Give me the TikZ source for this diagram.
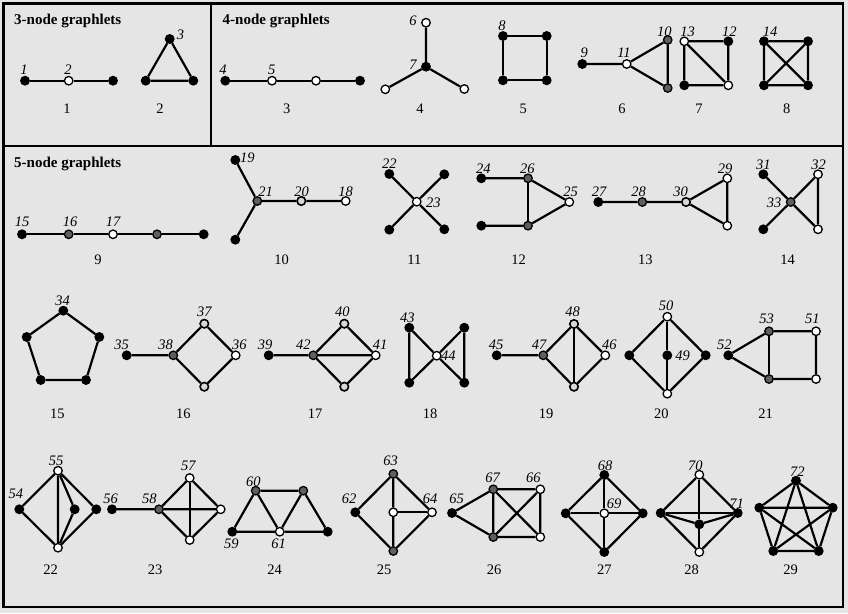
\documentclass[tikz,border=0pt]{standalone}
\usepackage{fontspec}
\setmainfont{Liberation Serif}
\definecolor{bgc}{RGB}{229,229,229}
\definecolor{gfill}{RGB}{95,95,95}
\definecolor{lfill}{RGB}{215,215,215}
\begin{document}
\begin{tikzpicture}[x=1pt,y=-1pt,
  nd/.style={circle,draw=black,line width=1.3pt,inner sep=0pt,minimum size=8.5pt},
  bn/.style={nd,fill=black},
  wn/.style={nd,fill=white},
  gn/.style={nd,fill=gfill},
  ln/.style={nd,fill=lfill,line width=1.6pt},
  ed/.style={line width=2.2pt},
  lab/.style={inner sep=0pt,font=\fontsize{14.5}{16}\selectfont\itshape},
  captxt/.style={inner sep=0pt,font=\fontsize{14.5}{16}\selectfont},
  ttl/.style={inner sep=0pt,anchor=west,font=\fontsize{15}{17}\selectfont\bfseries},
  frm/.style={line width=2.2pt}]
\useasboundingbox[fill=bgc] (0,0) rectangle (848,613);
\draw[frm] (3.5,3.5) rectangle (843,607);
\draw[frm] (211,3.5) -- (211,146);
\draw[frm] (3.5,146) -- (843,146);
\node[ttl] (h3) at (14,20.5) {3-node graphlets};
\node[ttl] (h4) at (222.5,20.5) {4-node graphlets};
\node[ttl] (h5) at (14,164) {5-node graphlets};

% G1
\node[bn] (g1a) at (25,80.7) {};
\node[wn] (g1b) at (68.7,80.7) {};
\node[bn] (g1c) at (113,80.7) {};
\draw[ed] (g1a) -- (g1b) -- (g1c);
\node[lab] (t1) at (24,70) {1};
\node[lab] (t2) at (68,70) {2};
\node[captxt] (c1) at (67,109) {1};
% G2
\node[bn] (g2a) at (169.7,39) {};
\node[bn] (g2b) at (145.7,80.7) {};
\node[bn] (g2c) at (193.3,80.7) {};
\draw[ed] (g2a) -- (g2b) -- (g2c) -- (g2a);
\node[lab] (t3) at (180.5,35) {3};
\node[captxt] (c2) at (160,109) {2};
% G3
\node[bn] (g3a) at (225.3,80.7) {};
\node[wn] (g3b) at (272,80.7) {};
\node[wn] (g3c) at (316,80.7) {};
\node[bn] (g3d) at (360,80.7) {};
\draw[ed] (g3a) -- (g3b) -- (g3c) -- (g3d);
\node[lab] (t4) at (223,70) {4};
\node[lab] (t5) at (271.7,70) {5};
\node[captxt] (c3) at (286.7,109) {3};
% G4
\node[wn] (g4a) at (426,22.7) {};
\node[bn] (g4b) at (426,66.7) {};
\node[wn] (g4c) at (385.3,89.3) {};
\node[wn] (g4d) at (464.3,89) {};
\draw[ed] (g4a) -- (g4b) -- (g4c);
\draw[ed] (g4b) -- (g4d);
\node[lab] (t6) at (413,21) {6};
\node[lab] (t7) at (413,65) {7};
\node[captxt] (c4) at (420,109) {4};
% G5
\node[bn] (g5a) at (503,36) {};
\node[bn] (g5b) at (546.7,36) {};
\node[bn] (g5c) at (546.7,80.3) {};
\node[bn] (g5d) at (503,80.3) {};
\draw[ed] (g5a) -- (g5b) -- (g5c) -- (g5d) -- (g5a);
\node[lab] (t8) at (502,26) {8};
\node[captxt] (c5) at (523.3,109) {5};
% G6
\node[bn] (g6a) at (582.3,64) {};
\node[wn] (g6b) at (626.7,64) {};
\node[gn] (g6c) at (667.7,40) {};
\node[gn] (g6d) at (667.7,88) {};
\draw[ed] (g6a) -- (g6b) -- (g6c) -- (g6d) -- (g6b);
\node[lab] (t9) at (584.3,53) {9};
\node[lab] (t11) at (624,53) {11};
\node[lab] (t10) at (664.3,32) {10};
\node[captxt] (c6) at (622,109) {6};
% G7
\node[wn] (g7a) at (684.3,41.3) {};
\node[bn] (g7b) at (728.3,41.3) {};
\node[wn] (g7c) at (728.3,85.3) {};
\node[bn] (g7d) at (684.3,85.3) {};
\draw[ed] (g7a) -- (g7b) -- (g7c) -- (g7d) -- (g7a) -- (g7c);
\node[lab] (t13) at (687.7,32) {13};
\node[lab] (t12) at (729.3,32) {12};
\node[captxt] (c7) at (699,109) {7};
% G8
\node[bn] (g8a) at (764,41.3) {};
\node[bn] (g8b) at (808,41.3) {};
\node[bn] (g8c) at (808,85.3) {};
\node[bn] (g8d) at (764,85.3) {};
\draw[ed] (g8a) -- (g8b) -- (g8c) -- (g8d) -- (g8a) -- (g8c);
\draw[ed] (g8b) -- (g8d);
\node[lab] (t14) at (770,32) {14};
\node[captxt] (c8) at (786.7,109) {8};

% G9
\node[bn] (g9a) at (22,234.3) {};
\node[gn] (g9b) at (68.7,234.3) {};
\node[wn] (g9c) at (113,234.3) {};
\node[gn] (g9d) at (157,234.3) {};
\node[bn] (g9e) at (203.7,234.3) {};
\draw[ed] (g9a) -- (g9b) -- (g9c) -- (g9d) -- (g9e);
\node[lab] (t15) at (22,222) {15};
\node[lab] (t16) at (70,222) {16};
\node[lab] (t17) at (113,222) {17};
\node[captxt] (c9) at (98,260) {9};
% G10
\node[bn] (g10a) at (235.3,160) {};
\node[gn] (g10b) at (257.3,201) {};
\node[ln] (g10c) at (301.3,201) {};
\node[wn] (g10d) at (345.7,201) {};
\node[bn] (g10e) at (235.3,239.7) {};
\draw[ed] (g10a) -- (g10b) -- (g10c) -- (g10d);
\draw[ed] (g10b) -- (g10e);
\node[lab] (t19) at (247.3,158) {19};
\node[lab] (t21) at (265.7,191.7) {21};
\node[lab] (t20) at (301.7,191.7) {20};
\node[lab] (t18) at (345.7,191.7) {18};
\node[captxt] (c10) at (281.7,260) {10};
% G11
\node[bn] (g11a) at (389.3,174) {};
\node[wn] (g11b) at (416.7,201.7) {};
\node[bn] (g11c) at (389.3,229.7) {};
\node[bn] (g11d) at (444.3,174.3) {};
\node[bn] (g11e) at (444.3,229.3) {};
\draw[ed] (g11a) -- (g11b) -- (g11e);
\draw[ed] (g11c) -- (g11b) -- (g11d);
\node[lab] (t22) at (389.3,164) {22};
\node[lab] (t23) at (433.3,202.3) {23};
\node[captxt] (c11) at (414.3,260) {11};
% G12
\node[bn] (g12a) at (481.3,178.3) {};
\node[gn] (g12b) at (528,178.3) {};
\node[wn] (g12c) at (569.3,202) {};
\node[bn] (g12d) at (481.3,225.7) {};
\node[gn] (g12e) at (528,225.7) {};
\draw[ed] (g12a) -- (g12b) -- (g12c) -- (g12e) -- (g12d);
\draw[ed] (g12b) -- (g12e);
\node[lab] (t24) at (483.3,168.3) {24};
\node[lab] (t26) at (527.3,168.3) {26};
\node[lab] (t25) at (570.7,191.7) {25};
\node[captxt] (c12) at (518.7,260) {12};
% G13
\node[bn] (g13a) at (598.3,202) {};
\node[gn] (g13b) at (642.3,202) {};
\node[ln] (g13c) at (686,202) {};
\node[wn] (g13d) at (727.3,178.3) {};
\node[wn] (g13e) at (727.3,225.7) {};
\draw[ed] (g13a) -- (g13b) -- (g13c) -- (g13d) -- (g13e) -- (g13c);
\node[lab] (t27) at (599,191.7) {27};
\node[lab] (t28) at (638.7,191.7) {28};
\node[lab] (t30) at (680.7,191.7) {30};
\node[lab] (t29) at (725,169) {29};
\node[captxt] (c13) at (645.3,260) {13};
% G14
\node[bn] (g14a) at (763.3,174.3) {};
\node[gn] (g14b) at (790.7,202) {};
\node[wn] (g14c) at (818,174.3) {};
\node[bn] (g14d) at (763.3,229.3) {};
\node[wn] (g14e) at (818,229.3) {};
\draw[ed] (g14a) -- (g14b) -- (g14e) -- (g14c) -- (g14b) -- (g14d);
\node[lab] (t31) at (763.3,164.3) {31};
\node[lab] (t32) at (818.7,164.3) {32};
\node[lab] (t33) at (774,202.3) {33};
\node[captxt] (c14) at (787.7,260) {14};

% G15
\node[bn] (g15a) at (63.3,310.7) {};
\node[bn] (g15b) at (99.3,337) {};
\node[bn] (g15c) at (86,380) {};
\node[bn] (g15d) at (40.7,380) {};
\node[bn] (g15e) at (26.7,337) {};
\draw[ed] (g15a) -- (g15b) -- (g15c) -- (g15d) -- (g15e) -- (g15a);
\node[lab] (t34) at (62.7,300.7) {34};
\node[captxt] (c15) at (57.3,414) {15};
% G16
\node[bn] (g16a) at (126.7,355.3) {};
\node[gn] (g16b) at (173.3,355.3) {};
\node[ln] (g16c) at (204.3,323.7) {};
\node[wn] (g16d) at (235.7,355.3) {};
\node[ln] (g16e) at (204.3,386.7) {};
\draw[ed] (g16a) -- (g16b) -- (g16c) -- (g16d) -- (g16e) -- (g16b);
\node[lab] (t35) at (121.7,345) {35};
\node[lab] (t38) at (165.7,345) {38};
\node[lab] (t37) at (204.3,312) {37};
\node[lab] (t36) at (239.3,345) {36};
\node[captxt] (c16) at (183.3,414) {16};
% G17
\node[bn] (g17a) at (268.7,355.3) {};
\node[gn] (g17b) at (313.3,355.3) {};
\node[ln] (g17c) at (344.3,323.7) {};
\node[wn] (g17d) at (375.7,355.3) {};
\node[ln] (g17e) at (344.3,386.7) {};
\draw[ed] (g17a) -- (g17b) -- (g17c) -- (g17d) -- (g17e) -- (g17b) -- (g17d);
\node[lab] (t39) at (265,345) {39};
\node[lab] (t42) at (303.3,345) {42};
\node[lab] (t40) at (342.3,312) {40};
\node[lab] (t41) at (380,345) {41};
\node[captxt] (c17) at (315,414) {17};
% G18
\node[bn] (g18a) at (409.3,327.7) {};
\node[wn] (g18b) at (436.7,355.7) {};
\node[bn] (g18c) at (409.3,382.7) {};
\node[bn] (g18d) at (464.3,327.7) {};
\node[bn] (g18e) at (464.3,382.7) {};
\draw[ed] (g18a) -- (g18b) -- (g18c) -- (g18a);
\draw[ed] (g18b) -- (g18d) -- (g18e) -- (g18b);
\node[lab] (t43) at (407.3,317.3) {43};
\node[lab] (t44) at (448.3,355.7) {44};
\node[captxt] (c18) at (430,414) {18};
% G19
\node[bn] (g19a) at (496.7,355.3) {};
\node[gn] (g19b) at (543.3,355.3) {};
\node[ln] (g19c) at (574,324) {};
\node[wn] (g19d) at (605.3,355.3) {};
\node[ln] (g19e) at (574,386.7) {};
\draw[ed] (g19a) -- (g19b) -- (g19c) -- (g19d) -- (g19e) -- (g19b);
\draw[ed] (g19c) -- (g19e);
\node[lab] (t45) at (496,345) {45};
\node[lab] (t47) at (539,345) {47};
\node[lab] (t48) at (572.7,312) {48};
\node[lab] (t46) at (609.3,345) {46};
\node[captxt] (c19) at (546,414) {19};
% G20
\node[wn] (g20a) at (667.3,316.7) {};
\node[bn] (g20b) at (629.3,355.3) {};
\node[bn] (g20c) at (667.3,355.3) {};
\node[bn] (g20d) at (705.7,355.3) {};
\node[wn] (g20e) at (667.3,393.7) {};
\draw[ed] (g20a) -- (g20b) -- (g20e) -- (g20d) -- (g20a);
\draw[ed] (g20a) -- (g20c) -- (g20e);
\node[lab] (t50) at (666,306) {50};
\node[lab] (t49) at (682.7,356) {49};
\node[captxt] (c20) at (661.3,414) {20};
% G21
\node[bn] (g21a) at (728.3,355.3) {};
\node[gn] (g21b) at (769,331.3) {};
\node[wn] (g21c) at (816,331.3) {};
\node[wn] (g21d) at (816,379) {};
\node[gn] (g21e) at (769,379) {};
\draw[ed] (g21a) -- (g21b) -- (g21c) -- (g21d) -- (g21e) -- (g21a);
\draw[ed] (g21b) -- (g21e);
\node[lab] (t52) at (724.3,345) {52};
\node[lab] (t53) at (766.7,318.3) {53};
\node[lab] (t51) at (812.3,318.3) {51};
\node[captxt] (c21) at (765.7,414) {21};

% G22
\node[wn] (g22a) at (58,470.7) {};
\node[bn] (g22b) at (19.3,509.3) {};
\node[bn] (g22c) at (74.7,509.3) {};
\node[bn] (g22d) at (96.3,509.3) {};
\node[wn] (g22e) at (58,547.7) {};
\draw[ed] (g22a) -- (g22b) -- (g22e) -- (g22d) -- (g22a) -- (g22e);
\draw[ed] (g22a) -- (g22c) -- (g22e);
\node[lab] (t55) at (56,460.7) {55};
\node[lab] (t54) at (16,493.3) {54};
\node[captxt] (c22) at (50.7,570) {22};
% G23
\node[bn] (g23a) at (112,509.3) {};
\node[gn] (g23b) at (159,509.3) {};
\node[wn] (g23c) at (189.7,478) {};
\node[wn] (g23d) at (220.7,509.3) {};
\node[wn] (g23e) at (189.7,540) {};
\draw[ed] (g23a) -- (g23b) -- (g23c) -- (g23d) -- (g23e) -- (g23b) -- (g23d);
\draw[ed] (g23c) -- (g23e);
\node[lab] (t56) at (110.7,498.7) {56};
\node[lab] (t58) at (149.3,498.7) {58};
\node[lab] (t57) at (188.3,466) {57};
\node[captxt] (c23) at (155,570) {23};
% G24
\node[bn] (g24a) at (232.3,531.7) {};
\node[gn] (g24b) at (255.7,490.7) {};
\node[gn] (g24c) at (303.3,490.7) {};
\node[wn] (g24d) at (279.7,531.7) {};
\node[bn] (g24e) at (327.7,531.7) {};
\draw[ed] (g24a) -- (g24b) -- (g24c) -- (g24e) -- (g24d) -- (g24a);
\draw[ed] (g24b) -- (g24d) -- (g24c);
\node[lab] (t60) at (253.3,482) {60};
\node[lab] (t59) at (231.3,543.3) {59};
\node[lab] (t61) at (278.7,543.3) {61};
\node[captxt] (c24) at (274.7,570) {24};
% G25
\node[gn] (g25a) at (393.3,474) {};
\node[bn] (g25b) at (355.3,512.3) {};
\node[wn] (g25c) at (393.3,512.3) {};
\node[wn] (g25d) at (432,512.3) {};
\node[gn] (g25e) at (393.3,551) {};
\draw[ed] (g25a) -- (g25b) -- (g25e) -- (g25d) -- (g25a) -- (g25c) -- (g25e);
\draw[ed] (g25c) -- (g25d);
\node[lab] (t63) at (390.7,460.7) {63};
\node[lab] (t62) at (349,499) {62};
\node[lab] (t64) at (430,499) {64};
\node[captxt] (c25) at (384,570) {25};
% G26
\node[bn] (g26a) at (452,513) {};
\node[gn] (g26b) at (493.3,489.3) {};
\node[wn] (g26c) at (540.3,489.3) {};
\node[wn] (g26d) at (540.3,537) {};
\node[gn] (g26e) at (493.3,537) {};
\draw[ed] (g26a) -- (g26b) -- (g26c) -- (g26d) -- (g26e) -- (g26a);
\draw[ed] (g26b) -- (g26e) -- (g26c);
\draw[ed] (g26b) -- (g26d);
\node[lab] (t65) at (456.7,499) {65};
\node[lab] (t67) at (492.7,477.3) {67};
\node[lab] (t66) at (533.3,477.3) {66};
\node[captxt] (c26) at (494,570) {26};
% G27
\node[bn] (g27a) at (604.3,475) {};
\node[bn] (g27b) at (565.7,513.3) {};
\node[wn] (g27c) at (604.3,513.3) {};
\node[bn] (g27d) at (642.7,513.3) {};
\node[bn] (g27e) at (604.3,552) {};
\draw[ed] (g27a) -- (g27b) -- (g27e) -- (g27d) -- (g27a);
\draw[ed] (g27a) -- (g27c) -- (g27e);
\draw[ed] (g27b) -- (g27c) -- (g27d);
\node[lab] (t68) at (605,465.3) {68};
\node[lab] (t69) at (614,504) {69};
\node[captxt] (c27) at (604.3,570) {27};
% G28
\node[wn] (g28a) at (699.3,474.7) {};
\node[bn] (g28b) at (660.7,513) {};
\node[bn] (g28c) at (699.3,524.3) {};
\node[bn] (g28d) at (737.7,513) {};
\node[wn] (g28e) at (699.3,552) {};
\draw[ed] (g28a) -- (g28b) -- (g28e) -- (g28d) -- (g28a);
\draw[ed] (g28a) -- (g28c) -- (g28e);
\draw[ed] (g28b) -- (g28c) -- (g28d);
\draw[ed] (g28b) -- (g28d);
\node[lab] (t70) at (695.3,465.3) {70};
\node[lab] (t71) at (736.7,503.3) {71};
\node[captxt] (c28) at (691.7,570) {28};
% G29
\node[bn] (g29a) at (796,480.7) {};
\node[bn] (g29b) at (832.7,507.7) {};
\node[bn] (g29c) at (818.7,551) {};
\node[bn] (g29d) at (773.3,551) {};
\node[bn] (g29e) at (759.3,507.7) {};
\draw[ed] (g29a) -- (g29b) -- (g29c) -- (g29d) -- (g29e) -- (g29a);
\draw[ed] (g29a) -- (g29c) -- (g29e) -- (g29b) -- (g29d) -- (g29a);
\node[lab] (t72) at (797.3,471.7) {72};
\node[captxt] (c29) at (790.7,570) {29};
\end{tikzpicture}
\end{document}
